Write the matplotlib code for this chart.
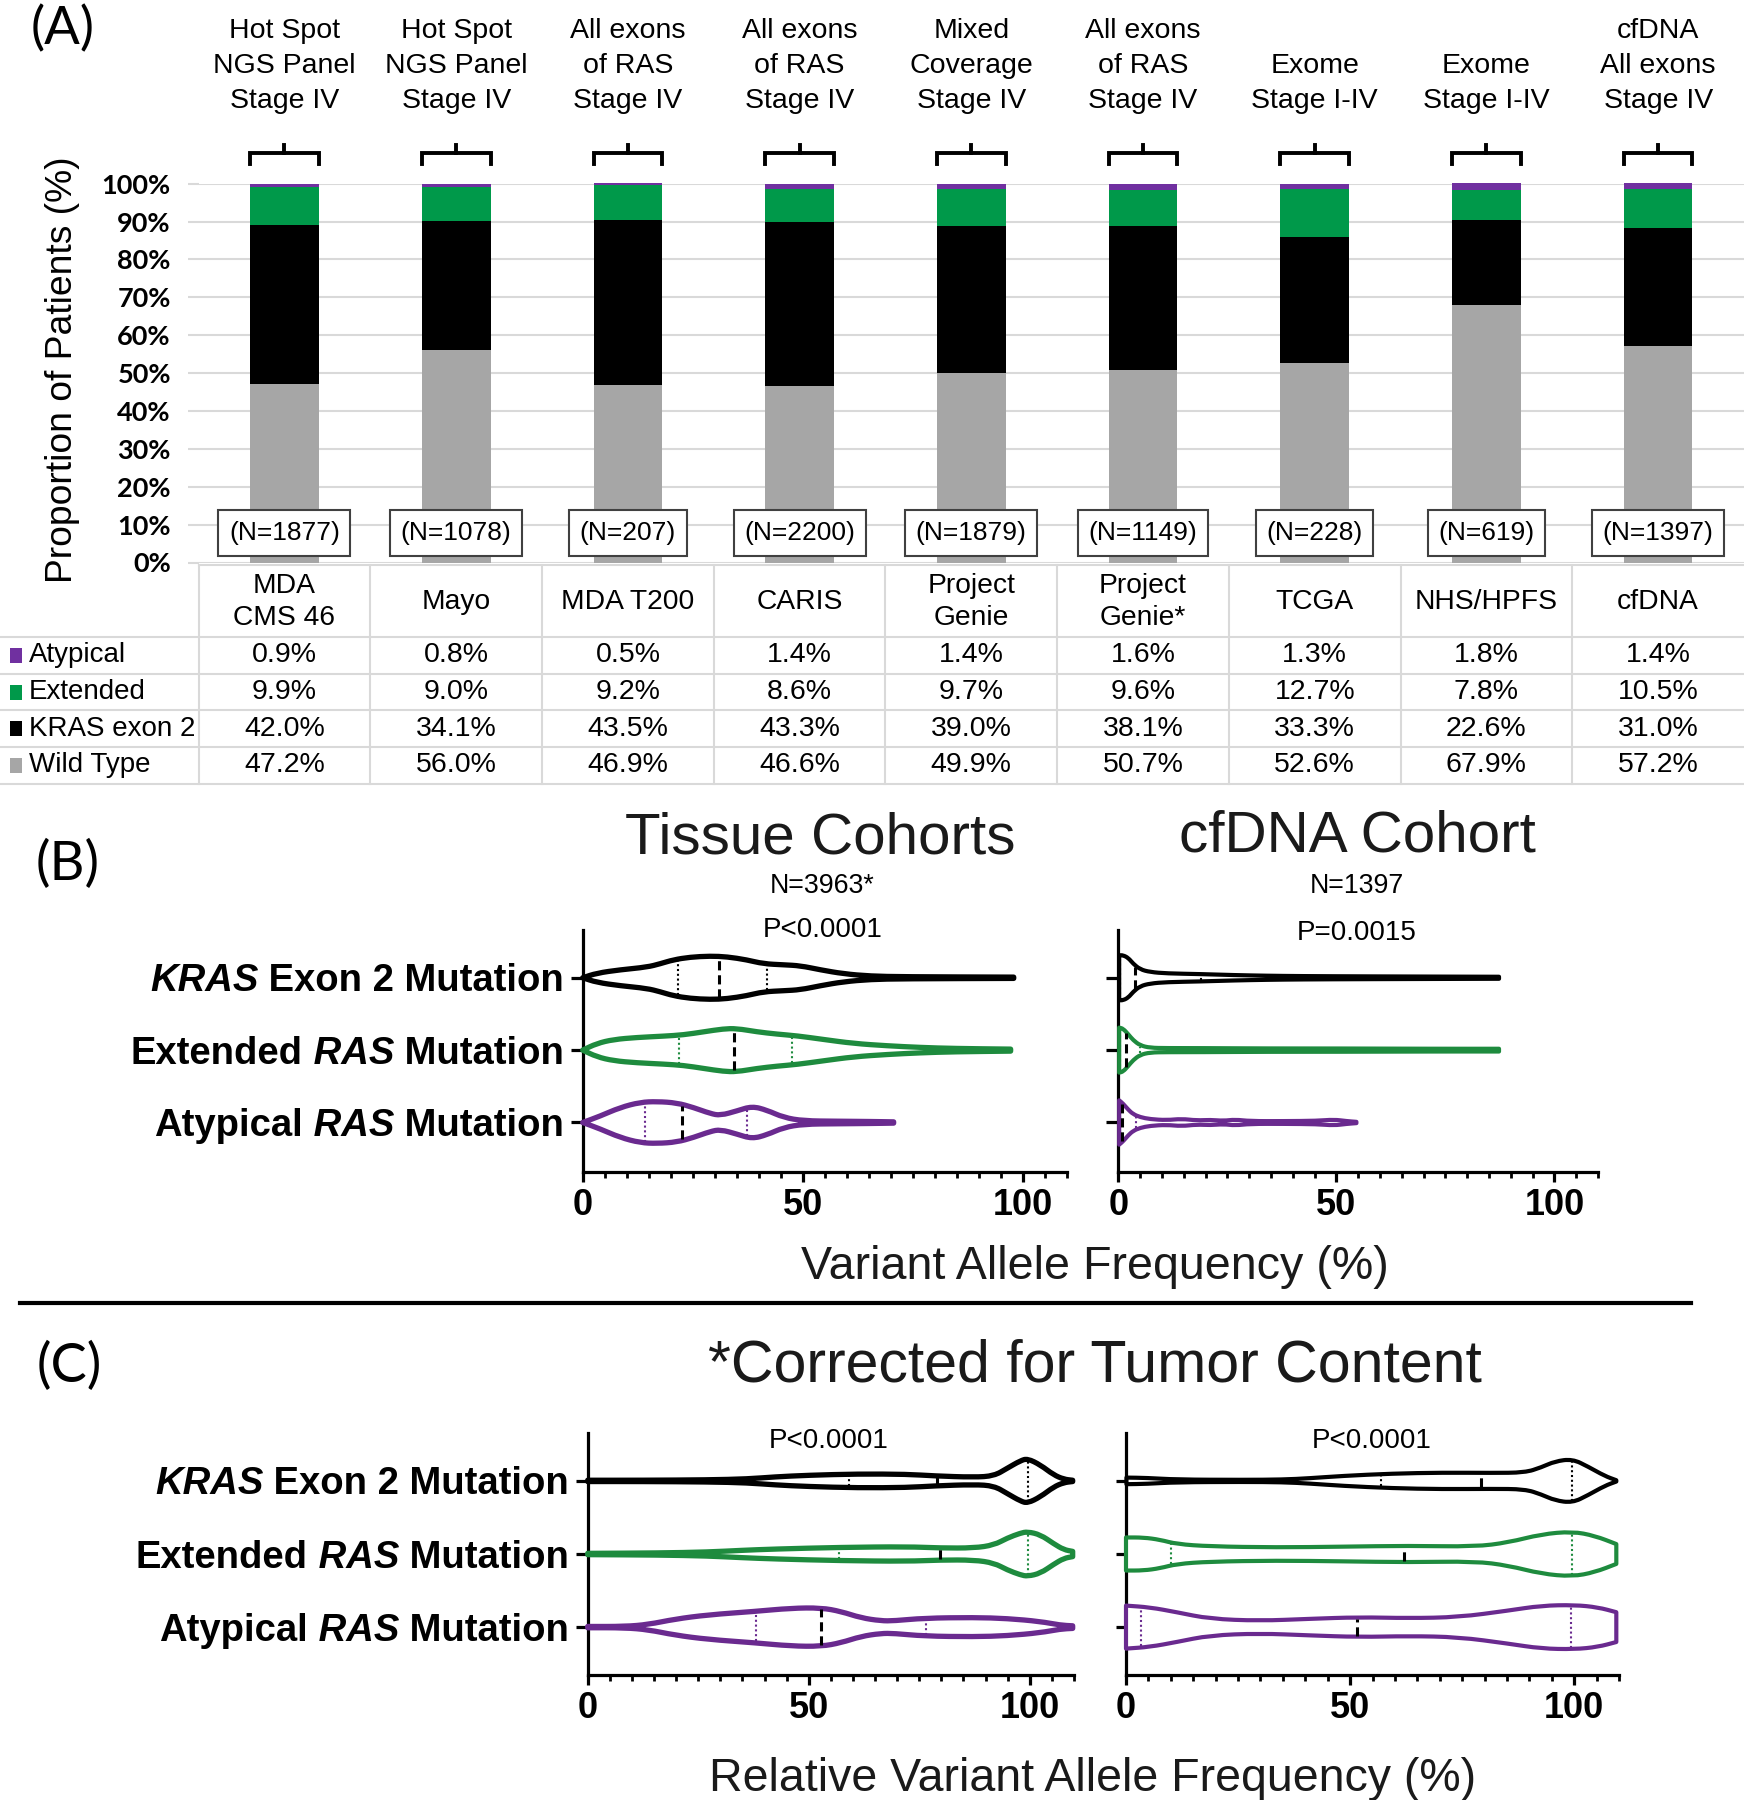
import numpy as np
import matplotlib
matplotlib.use("Agg")
import matplotlib.pyplot as plt
from matplotlib.ticker import MultipleLocator, FixedLocator
from matplotlib.patches import Rectangle, PathPatch
from matplotlib.path import Path

# ------------------------------------------------------------------ data
cohorts = ["MDA\nCMS 46", "Mayo", "MDA T200", "CARIS", "Project\nGenie",
           "Project\nGenie*", "TCGA", "NHS/HPFS", "cfDNA"]
headers = ["Hot Spot\nNGS Panel\nStage IV", "Hot Spot\nNGS Panel\nStage IV",
           "All exons\nof RAS\nStage IV", "All exons\nof RAS\nStage IV",
           "Mixed\nCoverage\nStage IV", "All exons\nof RAS\nStage IV",
           "Exome\nStage I-IV", "Exome\nStage I-IV", "cfDNA\nAll exons\nStage IV"]
n_patients = [1877, 1078, 207, 2200, 1879, 1149, 228, 619, 1397]
atypical = [0.9, 0.8, 0.5, 1.4, 1.4, 1.6, 1.3, 1.8, 1.4]
extended = [9.9, 9.0, 9.2, 8.6, 9.7, 9.6, 12.7, 7.8, 10.5]
kras_exon2 = [42.0, 34.1, 43.5, 43.3, 39.0, 38.1, 33.3, 22.6, 31.0]
wild_type = [47.2, 56.0, 46.9, 46.6, 49.9, 50.7, 52.6, 67.9, 57.2]
row_labels = ["Atypical", "Extended", "KRAS exon 2", "Wild Type"]
y_ticks_pct = [0, 10, 20, 30, 40, 50, 60, 70, 80, 90, 100]

# violin outlines: x = VAF (%), w = half width (category units)
# (B) tissue cohorts
bt_kras_x = [0, 3.2, 8.5, 14.6, 17.6, 20.6, 24.4, 29, 32.8, 37.3, 41.1, 45.7, 49.5, 54, 59.3, 65.4, 73, 98.0]
bt_kras_w = [0, .064, .11, .147, .193, .248, .285, .30, .29, .248, .193, .179, .166, .11, .055, .023, .014, .009]
bt_ext_x = [0, 3.2, 7, 12.3, 18.4, 22.9, 27.5, 32, 35, 39.6, 44.2, 48.7, 54.8, 61.6, 69.2, 76.8, 84.4, 97.3]
bt_ext_w = [0, .092, .147, .175, .193, .211, .253, .294, .299, .253, .221, .198, .147, .092, .06, .037, .023, .014]
bt_aty_x = [0, 3.9, 8.5, 13.1, 16.9, 21.4, 25.2, 29, 31.3, 35.1, 38.5, 41.9, 45.7, 50.2, 57.8, 65.4, 70.7]
bt_aty_w = [0, .087, .207, .28, .29, .271, .207, .124, .097, .161, .225, .17, .069, .023, .018, .014, .009]
bt_quart = [(21.6, 31.0, 41.9), (22.0, 34.3, 47.6), (14.2, 22.5, 37.3)]
# (B) cfDNA cohort
bc_kras_x = [0.2, 1.1, 2.3, 3.4, 5, 7.3, 11.1, 18.8, 26.4, 34.1, 41.7, 57, 87.3]
bc_kras_w = [.311, .311, .274, .195, .116, .079, .06, .051, .037, .028, .023, .019, .014]
bc_ext_x = [0.2, 1.1, 2.3, 3.4, 5, 7.3, 11.1, 18.8, 34.1, 49.4, 72.4, 87.3]
bc_ext_w = [.311, .297, .218, .139, .065, .032, .028, .028, .023, .023, .019, .019]
bc_aty_x = [0.2, 1.1, 2.3, 3.4, 5, 7.3, 11.1, 14.5, 18, 21.1, 24.1, 26.8, 30.2, 37.9, 45.6, 49.4, 52.4, 54.6]
bc_aty_w = [.306, .26, .176, .116, .074, .046, .032, .051, .028, .037, .023, .041, .019, .019, .023, .041, .019, .009]
bc_quart = [(0.5, 3.8, 19.0), (0.5, 1.8, 5.0), (0.4, 0.9, 4.0)]
# (C) tissue, corrected
ct_kras_x = [0, 12.2, 27.2, 36.2, 42.3, 49.8, 61.1, 72.3, 78.4, 87.4, 91.9, 94.9, 97.9, 99.5, 102.4, 105.4, 107.7, 109.7]
ct_kras_w = [.009, .009, .014, .027, .055, .077, .095, .091, .068, .05, .068, .173, .277, .305, .218, .082, .023, .009]
ct_ext_x = [0, 15.9, 27.2, 34.7, 42.3, 57.3, 72.3, 79.8, 87.4, 91.9, 94.9, 97.9, 99.5, 102.4, 105.4, 107.7, 109.7]
ct_ext_w = [.009, .014, .027, .05, .068, .091, .1, .082, .082, .123, .218, .286, .305, .264, .141, .059, .036]
ct_aty_x = [0, 8.4, 13.7, 19.7, 27.2, 37.7, 46, 52.8, 57.3, 61.8, 66.3, 69.3, 76.1, 87.4, 94.9, 102.4, 106.9, 109.7]
ct_aty_w = [.009, .009, .036, .109, .168, .214, .259, .264, .214, .127, .086, .086, .123, .132, .118, .077, .027, .018]
ct_quart = [(59.2, 78.9, 99.5), (56.8, 79.8, 99.5), (38.1, 52.8, 76.5)]
# (C) cfDNA, corrected
cc_kras_x = [0.1, 4.6, 11.3, 26, 35, 40.9, 48.3, 59.4, 70.5, 81.6, 89, 92.7, 95.7, 99.6, 103.1, 106.8, 109.4]
cc_kras_w = [.045, .041, .018, .014, .018, .036, .068, .1, .113, .109, .113, .186, .267, .299, .195, .068, .009]
cc_ext_x = [0, 3.9, 7.6, 11.3, 18.7, 33.5, 48.3, 63.1, 77.9, 85.3, 92.7, 99.6, 104.6, 109.4]
cc_ext_w = [.226, .226, .195, .136, .104, .09, .1, .113, .1, .158, .271, .308, .249, .136]
cc_aty_x = [0, 5.3, 11.3, 18.7, 29.8, 40.9, 52, 63.1, 74.2, 85.3, 92.7, 100.1, 105.3, 109.4]
cc_aty_w = [.294, .271, .204, .113, .086, .113, .136, .122, .136, .226, .294, .303, .271, .204]
cc_quart = [(57.0, 79.3, 99.6), (10.0, 62.0, 99.6), (3.3, 51.6, 99.4)]

cat_pieces = [[("KRAS", True), (" Exon 2 Mutation", False)],
              [("Extended", False), (" RAS", True), (" Mutation", False)],
              [("Atypical", False), (" RAS", True), (" Mutation", False)]]

# ------------------------------------------------------------------ style
ARIAL = "Liberation Sans"
CAL = "Lato"
C_PURPLE, C_GREEN, C_BLACK, C_GRAY = "#7030A0", "#00994A", "#000000", "#A6A6A6"
V_PURPLE, V_GREEN = "#6A2A8F", "#1E8B3E"
GRID = "#D9D9D9"
TXT = "#1A1A1A"

W, H = 1744, 1800
fig = plt.figure(figsize=(W / 100, H / 100), dpi=100)


def px_axes(l, t, r, b):
    return fig.add_axes([l / W, 1 - b / H, (r - l) / W, (b - t) / H])


canvas = px_axes(0, 0, W, H)
canvas.set_xlim(0, W)
canvas.set_ylim(H, 0)
canvas.axis("off")
canvas.patch.set_alpha(0)

# ------------------------------------------------------------------ panel A
AL, AR, A_TOP, A_BOT = 198.6, 1744.0, 183.7, 562.5
axA = px_axes(AL, A_TOP, AR, A_BOT)
axA.patch.set_alpha(0)
axA.set_xlim(-0.5, 8.5)
axA.set_ylim(0, 100)
xpos = np.arange(len(cohorts))
bottom = np.zeros(len(cohorts))
for vals, col in [(wild_type, C_GRAY), (kras_exon2, C_BLACK), (extended, C_GREEN), (atypical, C_PURPLE)]:
    axA.bar(xpos, vals, 0.4, bottom=bottom, color=col, zorder=2, clip_on=False, linewidth=0)
    bottom = bottom + np.array(vals)
for s in axA.spines.values():
    s.set_visible(False)
axA.set_xticks([])
axA.set_yticks(y_ticks_pct)
axA.set_yticklabels([f"{v}%" for v in y_ticks_pct], fontsize=19.5, fontweight="bold", family=CAL)
axA.tick_params(axis="y", length=8, width=1.5, color=GRID, pad=12)
axA.yaxis.grid(True, color=GRID, lw=1.5, zorder=0)
axA.set_axisbelow(True)

for i, (hdr, n) in enumerate(zip(headers, n_patients)):
    axA.text(i, 118.4, hdr, ha="center", va="bottom", fontsize=20.5, family=ARIAL,
             linespacing=1.45)
    axA.plot([i - 0.2, i - 0.2, i + 0.2, i + 0.2], [105.2, 108.1, 108.1, 105.2],
             color="black", lw=2.8, clip_on=False, solid_joinstyle="miter")
    axA.plot([i, i], [108.1, 110.2], color="black", lw=2.8, clip_on=False)
    axA.text(i, 7.8, f"(N={n})", ha="center", va="center", fontsize=19, family=ARIAL,
             zorder=5, bbox=dict(boxstyle="square,pad=0.4", fc="white", ec="#404040", lw=1.5))

canvas.text(62, 370, "Proportion of Patients (%)", rotation=90, ha="center", va="center",
            fontsize=26.8, family=ARIAL)
canvas.text(63, 44, "(A)", ha="center", va="baseline", fontsize=38, family=CAL)

# table
colw = (AR - AL) / len(cohorts)
col_edges = [AL + k * colw for k in range(len(cohorts) + 1)]
col_cent = [AL + (k + 0.5) * colw for k in range(len(cohorts))]
T_TOP, T_HDR = 565.0, 637.0
row_h = 36.7
row_lines = [T_HDR + k * row_h for k in range(len(row_labels) + 1)]
canvas.plot([AL, W], [T_TOP, T_TOP], color=GRID, lw=1.5)
for yl in row_lines:
    canvas.plot([0, W], [yl, yl], color=GRID, lw=1.5)
for xe in col_edges[:-1]:
    canvas.plot([xe, xe], [T_TOP, row_lines[-1]], color=GRID, lw=1.5)
for k, name in enumerate(cohorts):
    canvas.text(col_cent[k], (T_TOP + T_HDR) / 2 + 1, name, ha="center", va="center",
                fontsize=20.3, family=ARIAL, linespacing=1.3)
row_vals = [atypical, extended, kras_exon2, wild_type]
row_cols = [C_PURPLE, C_GREEN, C_BLACK, C_GRAY]
for r, (lab, vals, col) in enumerate(zip(row_labels, row_vals, row_cols)):
    yc = T_HDR + (r + 0.5) * row_h
    canvas.add_patch(Rectangle((10, yc - 7.5), 12, 15, color=col, lw=0))
    canvas.text(29, yc, lab, ha="left", va="center", fontsize=20.0, family=ARIAL)
    for k, v in enumerate(vals):
        canvas.text(col_cent[k], yc, f"{v:.1f}%", ha="center", va="center",
                    fontsize=20.5, family=ARIAL)


# ------------------------------------------------------------------ violins
def vaxes(l, t, r, b, ylim):
    ax = px_axes(l, t, r, b)
    ax.patch.set_alpha(0)
    ax.set_xlim(0, 110)
    ax.set_ylim(*ylim)
    ax.spines["top"].set_visible(False)
    ax.spines["right"].set_visible(False)
    for s in ("left", "bottom"):
        ax.spines[s].set_linewidth(2.3)
    ax.xaxis.set_major_locator(FixedLocator([0, 50, 100]))
    ax.xaxis.set_minor_locator(MultipleLocator(5))
    ax.tick_params(axis="x", which="major", length=7.5, width=2.3, pad=4, labelsize=26)
    ax.tick_params(axis="x", which="minor", length=4, width=2.0)
    for lab in ax.get_xticklabels():
        lab.set_fontweight("bold")
        lab.set_family(ARIAL)
    ax.set_yticks([1, 2, 3])
    ax.set_yticklabels([])
    ax.tick_params(axis="y", length=9, width=2.3)
    return ax


def rounded_chain(pts):
    """Quadratic-Bezier rounding of a polyline (rendering only)."""
    verts, codes = [], []
    n = len(pts)
    if n < 3:
        return list(pts), [Path.LINETO] * n
    verts.append(pts[0]); codes.append(Path.LINETO)
    verts.append((pts[0] + pts[1]) / 2); codes.append(Path.LINETO)
    for i in range(1, n - 1):
        verts.append(pts[i]); codes.append(Path.CURVE3)
        verts.append((pts[i] + pts[i + 1]) / 2); codes.append(Path.CURVE3)
    verts.append(pts[-1]); codes.append(Path.LINETO)
    return verts, codes


def draw_violin(ax, y0, xs, ws, color, quart, lw):
    xs = np.asarray(xs, float)
    ws = np.asarray(ws, float)
    upper = np.column_stack([xs, y0 + ws])
    lower = np.column_stack([xs[::-1], (y0 - ws)[::-1]])
    v1, c1 = rounded_chain(upper)
    v2, c2 = rounded_chain(lower)
    verts = v1 + v2 + [upper[0]]
    codes = c1 + c2 + [Path.CLOSEPOLY]
    codes[0] = Path.MOVETO
    patch = PathPatch(Path(np.array(verts), codes), facecolor="white", edgecolor=color,
                      lw=lw, joinstyle="round", clip_on=False, zorder=3)
    ax.add_patch(patch)
    for qi, val in enumerate(quart):
        h = max(np.interp(val, xs, ws) - 0.02, 0.0)
        if qi == 1:
            ax.plot([val, val], [y0 - h, y0 + h], color="black", lw=2.2,
                    ls=(0, (3, 1.6)), zorder=4, clip_on=False)
        else:
            ax.plot([val, val], [y0 - h, y0 + h], color=color, lw=1.5,
                    ls=(0, (1, 1.3)), zorder=4, clip_on=False)


renderer = fig.canvas.get_renderer()


def cat_labels(xr0, centers_px):
    for pieces, yc in zip(cat_pieces, centers_px):
        xr = xr0
        for txt, ital in reversed(pieces):
            t = canvas.text(xr, yc + 13.5, txt, ha="right", va="baseline", fontsize=27.5,
                            fontweight="bold", style="italic" if ital else "normal",
                            family=ARIAL)
            xr -= t.get_window_extent(renderer).width


B_YL = (0.32, 3.66)
C_YL = (0.345, 3.655)
axBt = vaxes(582.7, 930.0, 1066.5, 1171.7, B_YL)
axBc = vaxes(1118.3, 930.0, 1598.0, 1171.7, B_YL)
axCt = vaxes(587.7, 1433.0, 1074.0, 1675.0, C_YL)
axCc = vaxes(1126.0, 1433.0, 1619.0, 1675.0, C_YL)
axCc.tick_params(axis="y", direction="inout", length=14)

vcols = [C_BLACK, V_GREEN, V_PURPLE]
for ax, sets, quart, lw in [
    (axBt, [(bt_kras_x, bt_kras_w), (bt_ext_x, bt_ext_w), (bt_aty_x, bt_aty_w)], bt_quart, 3.8),
    (axBc, [(bc_kras_x, bc_kras_w), (bc_ext_x, bc_ext_w), (bc_aty_x, bc_aty_w)], bc_quart, 3.0),
    (axCt, [(ct_kras_x, ct_kras_w), (ct_ext_x, ct_ext_w), (ct_aty_x, ct_aty_w)], ct_quart, 3.8),
    (axCc, [(cc_kras_x, cc_kras_w), (cc_ext_x, cc_ext_w), (cc_aty_x, cc_aty_w)], cc_quart, 3.0),
]:
    for k, ((xs, ws), col, q) in enumerate(zip(sets, vcols, quart)):
        draw_violin(ax, 3 - k, xs, ws, col, q, lw)

cat_labels(564.0, [977.3, 1050.0, 1122.3])
cat_labels(569.0, [1481.0, 1554.3, 1627.3])

canvas.text(68, 880, "(B)", ha="center", va="baseline", fontsize=39, family=CAL)
canvas.text(820.7, 853, "Tissue Cohorts", ha="center", va="baseline", fontsize=42,
            family=ARIAL, color=TXT)
canvas.text(1357, 852, "cfDNA Cohort", ha="center", va="baseline", fontsize=42,
            family=ARIAL, color=TXT)
canvas.text(822.5, 893, "N=3963*", ha="center", va="baseline", fontsize=19.3, family=ARIAL)
canvas.text(822.5, 937, "P<0.0001", ha="center", va="baseline", fontsize=20, family=ARIAL)
canvas.text(1357, 893, "N=1397", ha="center", va="baseline", fontsize=19.3, family=ARIAL)
canvas.text(1357, 940, "P=0.0015", ha="center", va="baseline", fontsize=20, family=ARIAL)
canvas.text(1095, 1279, "Variant Allele Frequency (%)", ha="center", va="baseline",
            fontsize=33.6, family=ARIAL, color=TXT)
canvas.plot([19.5, 1691], [1303.3, 1303.3], color="black", lw=3)

canvas.text(69, 1382, "(C)", ha="center", va="baseline", fontsize=39, family=CAL)
canvas.text(1095, 1382, "*Corrected for Tumor Content", ha="center", va="baseline",
            fontsize=42.5, family=ARIAL, color=TXT)
canvas.text(829, 1448, "P<0.0001", ha="center", va="baseline", fontsize=20, family=ARIAL)
canvas.text(1372, 1448, "P<0.0001", ha="center", va="baseline", fontsize=20, family=ARIAL)
canvas.text(1093, 1791, "Relative Variant Allele Frequency (%)", ha="center", va="baseline",
            fontsize=33.5, family=ARIAL, color=TXT)

fig.savefig("out.png", dpi=100)
